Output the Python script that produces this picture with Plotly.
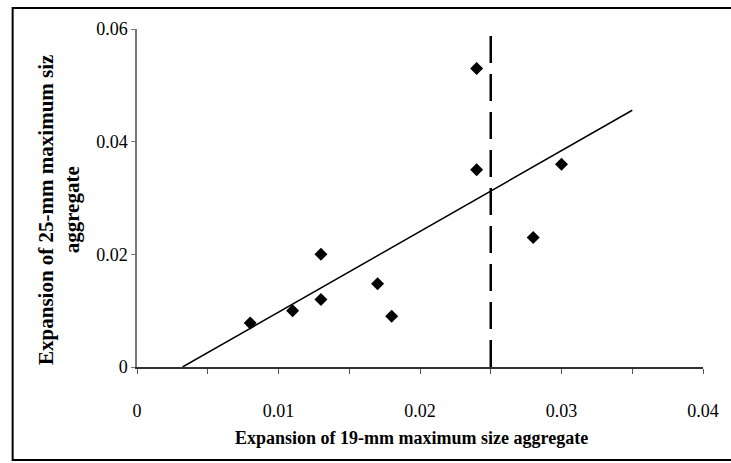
import numpy as np
import plotly.graph_objects as go

# Data
x_19mm = [0.008, 0.011, 0.013, 0.013, 0.017, 0.018, 0.024, 0.024, 0.028, 0.030]
y_25mm = [0.0078, 0.010, 0.020, 0.012, 0.0148, 0.009, 0.053, 0.035, 0.023, 0.036]
trend_end_x = 0.035
limit_x = 0.025
x_ticks = [0, 0.01, 0.02, 0.03, 0.04]
x_tick_text = ["0", "0.01", "0.02", "0.03", "0.04"]
y_ticks = [0, 0.02, 0.04, 0.06]
y_tick_text = ["0", "0.02", "0.04", "0.06"]

# linear trend line (least squares), extended from y=0 to x=0.035
slope, intercept = np.polyfit(x_19mm, y_25mm, 1)
x_start = -intercept / slope
trend_x = [x_start, trend_end_x]
trend_y = [slope * v + intercept for v in trend_x]

W, H = 731, 463
L, R, T, B = 137, 16, 29, 96

serif = "Liberation Serif, Times New Roman, serif"

fig = go.Figure()
fig.add_trace(go.Scatter(x=trend_x, y=trend_y, mode="lines",
                         line=dict(color="black", width=1.5), showlegend=False,
                         hoverinfo="skip"))
fig.add_trace(go.Scatter(x=[limit_x, limit_x], y=[0, 0.06], mode="lines",
                         line=dict(color="black", width=2.5, dash="27px,11px"),
                         showlegend=False, hoverinfo="skip"))
fig.add_trace(go.Scatter(x=x_19mm, y=y_25mm, mode="markers",
                         marker=dict(symbol="diamond", size=10, color="black"),
                         showlegend=False))

pw = W - L - R
ph = H - T - B

def px_to_paper_x(px):
    return (px - L) / pw

def px_to_paper_y(py):
    return (H - B - py) / ph

fig.add_shape(type="rect", xref="paper", yref="paper",
              x0=px_to_paper_x(10), x1=px_to_paper_x(745),
              y0=px_to_paper_y(460), y1=px_to_paper_y(8),
              line=dict(color="black", width=2), layer="below")

fig.add_annotation(text="<b>Expansion of 19-mm maximum size aggregate</b>",
                   xref="paper", yref="paper",
                   x=px_to_paper_x(417), y=px_to_paper_y(438),
                   showarrow=False, font=dict(family=serif, size=18, color="black"),
                   xanchor="center", yanchor="middle")
fig.add_annotation(text="<b>Expansion of 25-mm maximum siz</b>",
                   xref="paper", yref="paper",
                   x=px_to_paper_x(44), y=px_to_paper_y(210),
                   showarrow=False, textangle=-90,
                   font=dict(family=serif, size=21, color="black"),
                   xanchor="center", yanchor="middle")
fig.add_annotation(text="<b>aggregate</b>",
                   xref="paper", yref="paper",
                   x=px_to_paper_x(71), y=px_to_paper_y(210),
                   showarrow=False, textangle=-90,
                   font=dict(family=serif, size=21, color="black"),
                   xanchor="center", yanchor="middle")

fig.update_layout(
    width=W, height=H,
    margin=dict(l=L, r=R, t=T, b=B, pad=0),
    paper_bgcolor="white", plot_bgcolor="white",
    font=dict(family=serif, size=18, color="black"),
    xaxis=dict(range=[0, 0.04], tickmode="array", tickvals=x_ticks, ticktext=x_tick_text,
               showgrid=False, zeroline=False, showline=True, linecolor="#333",
               linewidth=1.5, ticks="outside", ticklen=5, tickcolor="#555",
               ticklabelstandoff=22,
               minor=dict(dtick=0.005, tick0=0, ticks="outside", ticklen=5,
                          tickcolor="#555", showgrid=False)),
    yaxis=dict(range=[0, 0.06], tickmode="array", tickvals=y_ticks, ticktext=y_tick_text,
               showgrid=False, zeroline=False, showline=True, linecolor="#777",
               linewidth=1.5, ticks="outside", ticklen=4, tickcolor="#777"),
)

fig.write_html("out.html")
